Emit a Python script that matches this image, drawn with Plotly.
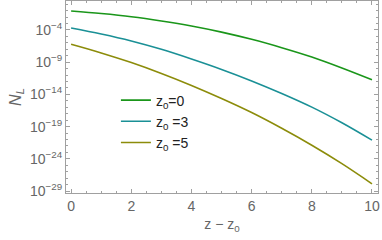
import plotly.graph_objects as go

z = [0, 1, 2, 3, 4, 5, 6, 7, 8, 9, 10]
log_nl_z0_0 = [-1.06, -1.45, -1.94, -2.6, -3.38, -4.33, -5.45, -6.75, -8.2, -9.9, -11.73]
log_nl_z0_3 = [-3.69, -4.62, -5.70, -7.0, -8.5, -10.12, -11.9, -13.85, -15.97, -18.4, -21.1]
log_nl_z0_5 = [-6.22, -7.56, -9.06, -10.75, -12.61, -14.64, -16.82, -19.26, -21.89, -24.75, -27.87]
names = ["z<sub>0</sub>=0", "z<sub>0</sub> =3", "z<sub>0</sub> =5"]
colors = ["#1a961a", "#1a9096", "#8c8c0a"]

ytick_exp = [-4, -9, -14, -19, -24, -29]
xticks = [0, 2, 4, 6, 8, 10]

fig = go.Figure()
for vals, name, col in zip([log_nl_z0_0, log_nl_z0_3, log_nl_z0_5], names, colors):
    fig.add_trace(go.Scatter(
        x=z, y=[10 ** v for v in vals], mode="lines", name=name,
        line=dict(color=col, width=1.6, shape="spline", smoothing=1),
    ))

axis_col = "#a0a0a0"
minor_y = [10.0 ** e for e in range(-29, 1) if e not in ytick_exp]
fig.update_layout(
    width=382, height=240,
    margin=dict(l=66, r=4, t=1, b=47, autoexpand=False),
    plot_bgcolor="white", paper_bgcolor="white",
    font=dict(family="Liberation Sans, Arial, sans-serif", color="#555555", size=14),
    legend=dict(x=0.16, y=0.565, xanchor="left", yanchor="top",
                bgcolor="rgba(0,0,0,0)", font=dict(size=14, color="#222222"),
                itemwidth=30, tracegroupgap=4),
    showlegend=True,
)
fig.update_xaxes(
    range=[-0.17, 10.2], tickvals=xticks, ticktext=[str(t) for t in xticks],
    showgrid=False, zeroline=False, showline=True, linecolor=axis_col, linewidth=1,
    mirror="ticks", ticks="inside", ticklen=4, tickcolor=axis_col,
    minor=dict(dtick=0.5, ticks="inside", ticklen=2, tickcolor=axis_col),
    tickfont=dict(size=14, color="#666666"), automargin=False,
    title=dict(text="z − z<sub>0</sub>", font=dict(size=14, color="#666666"), standoff=6),
)
fig.update_yaxes(
    type="log", range=[-29.3, 0.5],
    tickvals=[10 ** e for e in ytick_exp],
    ticktext=["10<sup>−%d</sup>" % (-e) for e in ytick_exp],
    showgrid=False, zeroline=False, showline=True, linecolor=axis_col, linewidth=1,
    mirror="ticks", ticks="inside", ticklen=4, tickcolor=axis_col,
    minor=dict(tickvals=minor_y, ticks="inside", ticklen=2, tickcolor=axis_col),
    tickfont=dict(size=14, color="#666666"), automargin=False,
    title=dict(text="<i>N<sub>L</sub></i>", font=dict(size=16, color="#666666"), standoff=4),
)
fig.write_html("out.html", config={"displayModeBar": False},
               post_script="document.body.style.margin='0';document.body.style.padding='0';")
